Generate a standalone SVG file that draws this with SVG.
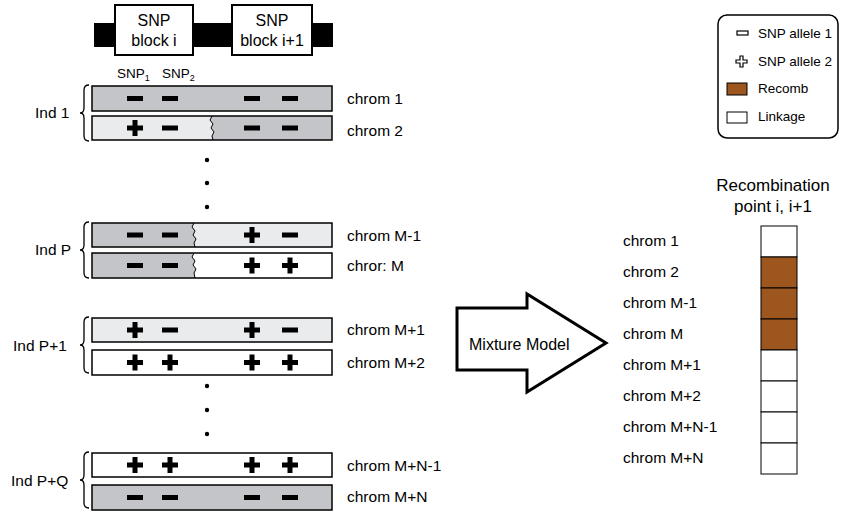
<svg xmlns="http://www.w3.org/2000/svg" width="850" height="513" viewBox="0 0 850 513">
<defs>
<style>
text{font-family:"Liberation Sans",Arial,sans-serif;fill:#000}
.lbl{font-size:15.5px}
.hd{font-size:16px}
.lg{font-size:13.5px}
.bar{stroke:#000;stroke-width:1.5}
.dk{fill:#c4c5c8}
.lt{fill:#e9ebed}
.wh{fill:#fff}
.br{fill:none;stroke:#000;stroke-width:1.3}
.dot{fill:#000}
</style>
<g id="mn"><rect x="-8" y="-2.5" width="16" height="5" fill="#000"/></g>
<g id="pl"><rect x="-8" y="-2.5" width="16" height="5" fill="#000"/><rect x="-2.5" y="-8" width="5" height="16" fill="#000"/></g>
</defs>
<rect width="850" height="513" fill="#fff"/>

<g id="header">
<rect x="94" y="23" width="239" height="24" fill="#000"/>
<rect x="115" y="5" width="78" height="50" fill="#fff" stroke="#000" stroke-width="2"/>
<rect x="232" y="5" width="80" height="50" fill="#fff" stroke="#000" stroke-width="2"/>
<text class="hd" x="154" y="26" text-anchor="middle">SNP</text>
<text class="hd" x="154" y="46" text-anchor="middle">block i</text>
<text class="hd" x="272" y="26" text-anchor="middle">SNP</text>
<text class="hd" x="272" y="46" text-anchor="middle">block i+1</text>
<text class="lg" x="117" y="78">SNP<tspan font-size="9" dy="3">1</tspan></text>
<text class="lg" x="162" y="78">SNP<tspan font-size="9" dy="3">2</tspan></text>
</g>

<g id="connectors"></g>

<g id="ind1">
<path class="br" d="M89,85 q-5,0 -5,5 v18 q0,5 -4,5 q4,0 4,5 v18 q0,5 5,5"/>
<text class="lbl" x="35" y="118">Ind 1</text>
<rect class="bar dk" x="92" y="86" width="240" height="25"/>
<text class="lbl" x="347" y="104">chrom 1</text>
<use href="#mn" x="135" y="98.5"/><use href="#mn" x="170" y="98.5"/><use href="#mn" x="252" y="98.5"/><use href="#mn" x="290" y="98.5"/>
<rect class="lt" x="92" y="116" width="240" height="24"/>
<path class="dk" d="M212,116 l-2,4 l3,4 l-2,4 l3,4 l-2,4 l1,4 H332 V116 Z"/>
<path fill="none" stroke="#000" stroke-width="1" d="M212,116 l-2,4 l3,4 l-2,4 l3,4 l-2,4 l1,4"/>
<rect class="bar" fill="none" x="92" y="116" width="240" height="24"/>
<text class="lbl" x="347" y="136">chrom 2</text>
<use href="#pl" x="135" y="128"/><use href="#mn" x="170" y="128"/><use href="#mn" x="252" y="128"/><use href="#mn" x="290" y="128"/>
</g>

<g id="dots1"><circle class="dot" cx="207" cy="160" r="2.2"/><circle class="dot" cx="207" cy="183" r="2.2"/><circle class="dot" cx="207" cy="207" r="2.2"/></g>

<g id="indP">
<path class="br" d="M89,222 q-5,0 -5,5 v18 q0,5 -4,5 q4,0 4,5 v18 q0,5 5,5"/>
<text class="lbl" x="35" y="255">Ind P</text>
<rect class="lt" x="92" y="223" width="240" height="24"/>
<path class="dk" d="M194,223 l-2,4 l3,4 l-2,4 l3,4 l-2,4 l1,4 H92 V223 Z"/>
<path fill="none" stroke="#000" stroke-width="1" d="M194,223 l-2,4 l3,4 l-2,4 l3,4 l-2,4 l1,4"/>
<rect class="bar" fill="none" x="92" y="223" width="240" height="24"/>
<text class="lbl" x="347" y="241">chrom M-1</text>
<use href="#mn" x="135" y="235"/><use href="#mn" x="170" y="235"/><use href="#pl" x="252" y="235"/><use href="#mn" x="290" y="235"/>
<rect class="wh" x="92" y="253" width="240" height="25"/>
<path class="dk" d="M194,253 l-2,4 l3,4 l-2,4 l3,4 l-2,4 l1,5 H92 V253 Z"/>
<path fill="none" stroke="#000" stroke-width="1" d="M194,253 l-2,4 l3,4 l-2,4 l3,4 l-2,4 l1,5"/>
<rect class="bar" fill="none" x="92" y="253" width="240" height="25"/>
<text class="lbl" x="347" y="271">chror: M</text>
<use href="#mn" x="135" y="265.5"/><use href="#mn" x="170" y="265.5"/><use href="#pl" x="252" y="265.5"/><use href="#pl" x="290" y="265.5"/>
</g>

<g id="indP1">
<path class="br" d="M89,317 q-5,0 -5,5 v18 q0,5 -4,5 q4,0 4,5 v18 q0,5 5,5"/>
<text class="lbl" x="13" y="351">Ind P+1</text>
<rect class="bar lt" x="92" y="318" width="240" height="24"/>
<text class="lbl" x="347" y="335">chrom M+1</text>
<use href="#pl" x="135" y="330"/><use href="#mn" x="170" y="330"/><use href="#pl" x="252" y="330"/><use href="#mn" x="290" y="330"/>
<rect class="bar wh" x="92" y="350" width="240" height="25"/>
<text class="lbl" x="347" y="368">chrom M+2</text>
<use href="#pl" x="135" y="362.5"/><use href="#pl" x="170" y="362.5"/><use href="#pl" x="252" y="362.5"/><use href="#pl" x="290" y="362.5"/>
</g>

<g id="dots2"><circle class="dot" cx="207" cy="386" r="2.2"/><circle class="dot" cx="207" cy="410" r="2.2"/><circle class="dot" cx="207" cy="434" r="2.2"/></g>

<g id="indPQ">
<path class="br" d="M89,452 q-5,0 -5,5 v18 q0,5 -4,5 q4,0 4,5 v18 q0,5 5,5"/>
<text class="lbl" x="11" y="486">Ind P+Q</text>
<rect class="bar wh" x="92" y="453" width="240" height="24"/>
<text class="lbl" x="347" y="471">chrom M+N-1</text>
<use href="#pl" x="135" y="465"/><use href="#pl" x="170" y="465"/><use href="#pl" x="252" y="465"/><use href="#pl" x="290" y="465"/>
<rect class="bar dk" x="92" y="485" width="240" height="25"/>
<text class="lbl" x="347" y="502">chrom M+N</text>
<use href="#mn" x="135" y="497.5"/><use href="#mn" x="170" y="497.5"/><use href="#mn" x="252" y="497.5"/><use href="#mn" x="290" y="497.5"/>
</g>

<g id="legend">
<rect x="718" y="15" width="120" height="123" rx="9" fill="#fff" stroke="#000" stroke-width="1.5"/>
<rect x="737" y="31" width="11" height="4" fill="#fff" stroke="#000" stroke-width="1.2"/>
<text class="lg" x="758" y="38">SNP allele 1</text>
<path d="M740,56 h3 v4 h4 v3 h-4 v4 h-3 v-4 h-4 v-3 h4 Z" fill="#fff" stroke="#000" stroke-width="1.2"/>
<text class="lg" x="758" y="66">SNP allele 2</text>
<rect x="727" y="83" width="20" height="12" fill="#9c561e" stroke="#000" stroke-width="1"/>
<text class="lg" x="758" y="93">Recomb</text>
<rect x="727" y="112" width="20" height="11" fill="#fff" stroke="#000" stroke-width="1"/>
<text class="lg" x="758" y="121">Linkage</text>
</g>

<g id="arrow">
<polygon points="457,308 527,308 527,294 606,343 527,392 527,370 457,370" fill="#fff" stroke="#000" stroke-width="3"/>
<text font-size="16" x="469" y="350">Mixture Model</text>
</g>

<g id="result">
<text font-size="17" x="773" y="191" text-anchor="middle">Recombination</text>
<text font-size="17" x="773" y="212" text-anchor="middle">point i, i+1</text>
<rect x="761" y="226" width="36" height="31" fill="#fff" stroke="#000"/>
<rect x="761" y="257" width="36" height="31" fill="#9c561e" stroke="#000"/>
<rect x="761" y="288" width="36" height="31" fill="#9c561e" stroke="#000"/>
<rect x="761" y="319" width="36" height="31" fill="#9c561e" stroke="#000"/>
<rect x="761" y="350" width="36" height="31" fill="#fff" stroke="#000"/>
<rect x="761" y="381" width="36" height="31" fill="#fff" stroke="#000"/>
<rect x="761" y="412" width="36" height="31" fill="#fff" stroke="#000"/>
<rect x="761" y="443" width="36" height="31" fill="#fff" stroke="#000"/>
<text class="lbl" x="623" y="246">chrom 1</text>
<text class="lbl" x="623" y="277">chrom 2</text>
<text class="lbl" x="623" y="308">chrom M-1</text>
<text class="lbl" x="623" y="339">chrom M</text>
<text class="lbl" x="623" y="370">chrom M+1</text>
<text class="lbl" x="623" y="401">chrom M+2</text>
<text class="lbl" x="623" y="432">chrom M+N-1</text>
<text class="lbl" x="623" y="463">chrom M+N</text>
</g>
</svg>
